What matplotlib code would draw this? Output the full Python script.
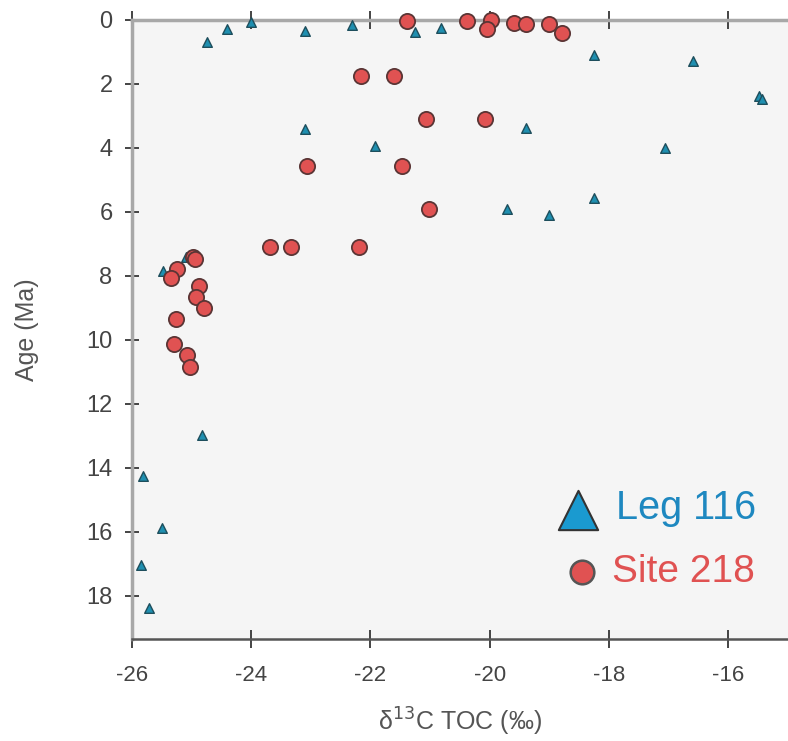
import matplotlib
matplotlib.use("Agg")
import matplotlib.pyplot as plt

plt.rcParams['font.family'] = ['Liberation Sans', 'DejaVu Sans']

# Leg 116 (triangles)
leg116_d13c = [-24.74, -24.41, -24.0, -23.10, -22.31, -21.25, -20.82, -18.25, -16.59,
               -15.48, -15.43, -23.10, -21.92, -19.39, -17.06, -19.71, -19.0, -18.25,
               -25.48, -25.1, -24.83, -25.82, -25.5, -25.85, -25.71]
leg116_age = [0.69, 0.28, 0.06, 0.34, 0.16, 0.38, 0.25, 1.09, 1.28,
              2.38, 2.46, 3.4, 3.94, 3.38, 4.0, 5.9, 6.1, 5.56,
              7.84, 7.4, 12.97, 14.25, 15.88, 17.03, 18.38]

# Site 218 (circles)
site218_d13c = [-21.39, -20.38, -19.98, -20.04, -19.59, -19.39, -19.0, -18.79,
                -22.16, -21.6, -21.07, -20.08, -23.06, -21.47, -21.02,
                -23.68, -23.33, -22.19, -24.98, -24.95, -25.24, -25.35, -24.88,
                -24.93, -24.79, -25.26, -25.3, -25.08, -25.03]
site218_age = [0.03, 0.03, 0.0, 0.28, 0.09, 0.12, 0.12, 0.41,
               1.75, 1.75, 3.1, 3.1, 4.56, 4.56, 5.9,
               7.09, 7.09, 7.09, 7.42, 7.46, 7.79, 8.05, 8.3,
               8.67, 9.0, 9.35, 10.12, 10.47, 10.83]

xticks = [-26, -24, -22, -20, -18, -16]
yticks = [0, 2, 4, 6, 8, 10, 12, 14, 16, 18]

fig = plt.figure(figsize=(7.88, 7.41), dpi=100)
ax = fig.add_axes([132/788, (741-639)/741, (788-132)/788, (639-20)/741])
ax.set_facecolor('#f5f5f5')

ax.scatter(leg116_d13c, leg116_age, marker='^', s=48, facecolor='#1f8fb0',
           edgecolor='#1e4e5c', linewidth=1.0, zorder=3, clip_on=False)
ax.scatter(site218_d13c, site218_age, marker='o', s=120, facecolor='#e05252',
           edgecolor='#5a3535', linewidth=1.3, zorder=4, clip_on=False)

ax.set_xlim(-26, -26 + 656/59.6)
ax.set_ylim((639-20)/32, 0)
ax.set_xticks(xticks)
ax.set_yticks(yticks)
ax.set_xticklabels([str(t) for t in xticks])
ax.set_yticklabels([str(t) for t in yticks])

ax.spines['right'].set_visible(False)
ax.spines['top'].set_color('#a8a8a8')
ax.spines['top'].set_linewidth(2.5)
ax.spines['left'].set_color('#a8a8a8')
ax.spines['left'].set_linewidth(2.5)
ax.spines['bottom'].set_color('#555555')
ax.spines['bottom'].set_linewidth(1.8)

ax.xaxis.set_ticks_position('both')
ax.tick_params(axis='x', which='both', direction='inout', length=13, width=1.4,
               color='#444444', labelsize=16, labelcolor='#444444', pad=12,
               top=True, labeltop=False)
ax.tick_params(axis='y', direction='inout', length=10, width=1.4,
               color='#444444', labelsize=17, labelcolor='#444444', pad=9)

ax.set_xlabel('δ$^{13}$C TOC (‰)', fontsize=18, color='#555555')
ax.set_ylabel('Age (Ma)', fontsize=18, color='#555555')
ax.xaxis.set_label_coords(0.5, -0.108)
ax.yaxis.set_label_coords(-0.142, 0.5)

# legend drawn manually
ax.scatter([0.68], [0.209], transform=ax.transAxes, marker='^', s=800,
           facecolor='#1a9ad0', edgecolor='#333333', linewidth=1.5, zorder=5, clip_on=False)
ax.scatter([0.686], [0.108], transform=ax.transAxes, marker='o', s=290,
           facecolor='#e05252', edgecolor='#555555', linewidth=1.8, zorder=5, clip_on=False)
ax.text(0.738, 0.211, 'Leg 116', transform=ax.transAxes, fontsize=28.5,
        color='#1e88c0', va='center', ha='left')
ax.text(0.731, 0.108, 'Site 218', transform=ax.transAxes, fontsize=28,
        color='#e05252', va='center', ha='left')

fig.savefig('out.png', dpi=100)
